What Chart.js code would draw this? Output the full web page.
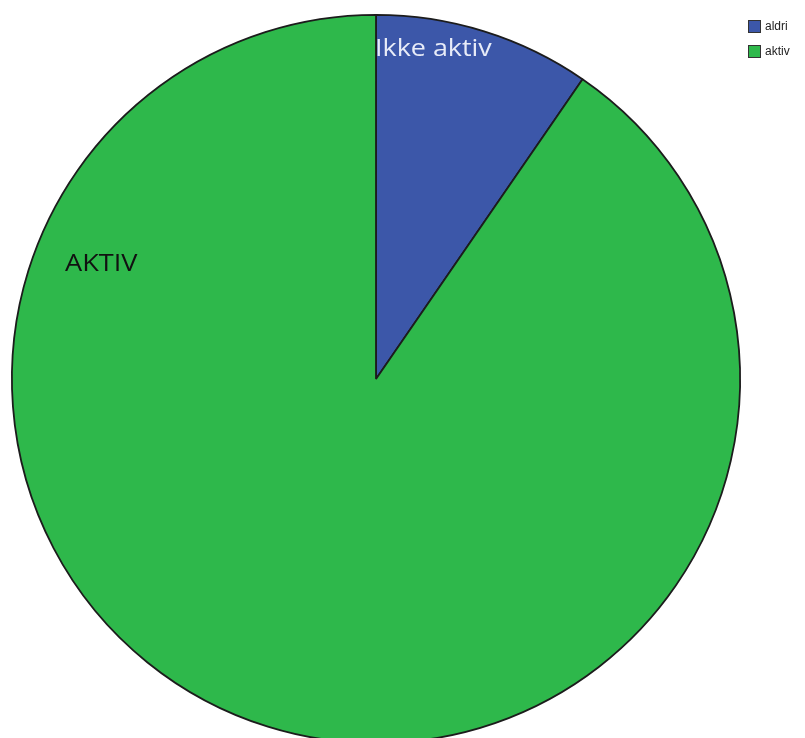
<!DOCTYPE html>
<html>
<head>
<meta charset="utf-8">
<script src="https://cdn.jsdelivr.net/npm/chart.js@4"></script>
<style>
  html, body { margin: 0; padding: 0; background: #fff; overflow: hidden; }
  #wrap { position: relative; width: 805px; height: 760px; }
</style>
</head>
<body>
<div id="wrap"><canvas id="pie"></canvas></div>
<script>
// data
const categories = ["aldri", "aktiv"];
const shares = [9.6, 90.4];
const sliceLabels = ["Ikke aktiv", "AKTIV"];
const colors = ["#3c57a9", "#2eb84b"];

// text in the reference looks stretched sideways a bit
function wideText(ctx, txt, x, y, sx) {
  ctx.save();
  ctx.translate(x, y);
  ctx.scale(sx, 1);
  ctx.fillText(txt, 0, 0);
  ctx.restore();
}

// slice labels + small legend top right
const annotate = {
  id: "annotate",
  afterDraw(chart) {
    const ctx = chart.ctx;
    ctx.save();
    ctx.textBaseline = "middle";
    ctx.font = "23px 'Open Sans', sans-serif";
    ctx.fillStyle = "#e8ecf8";
    wideText(ctx, sliceLabels[0], 375, 49, 1.17);
    ctx.fillStyle = "#111";
    wideText(ctx, sliceLabels[1], 65, 264, 1.18);

    ctx.font = "12px 'Liberation Sans', Arial, sans-serif";
    categories.forEach((c, i) => {
      const y = 20 + i * 25;
      ctx.fillStyle = colors[i];
      ctx.fillRect(748, y, 13, 13);
      ctx.strokeStyle = "#333";
      ctx.lineWidth = 1;
      ctx.strokeRect(748.5, y + 0.5, 12, 12);
      ctx.fillStyle = "#222";
      ctx.fillText(c, 765, y + 7);
    });
    ctx.restore();
  }
};

new Chart(document.getElementById("pie"), {
  type: "pie",
  data: {
    labels: categories,
    datasets: [{
      data: shares,
      backgroundColor: colors,
      borderColor: "#1c1c1c",
      borderWidth: 1.8
    }]
  },
  options: {
    responsive: true,
    maintainAspectRatio: false,
    animation: false,
    layout: { padding: { left: 11, right: 64, top: 14, bottom: 16 } },
    plugins: {
      legend: { display: false },
      tooltip: { enabled: false }
    }
  },
  plugins: [annotate]
});
</script>
</body>
</html>
